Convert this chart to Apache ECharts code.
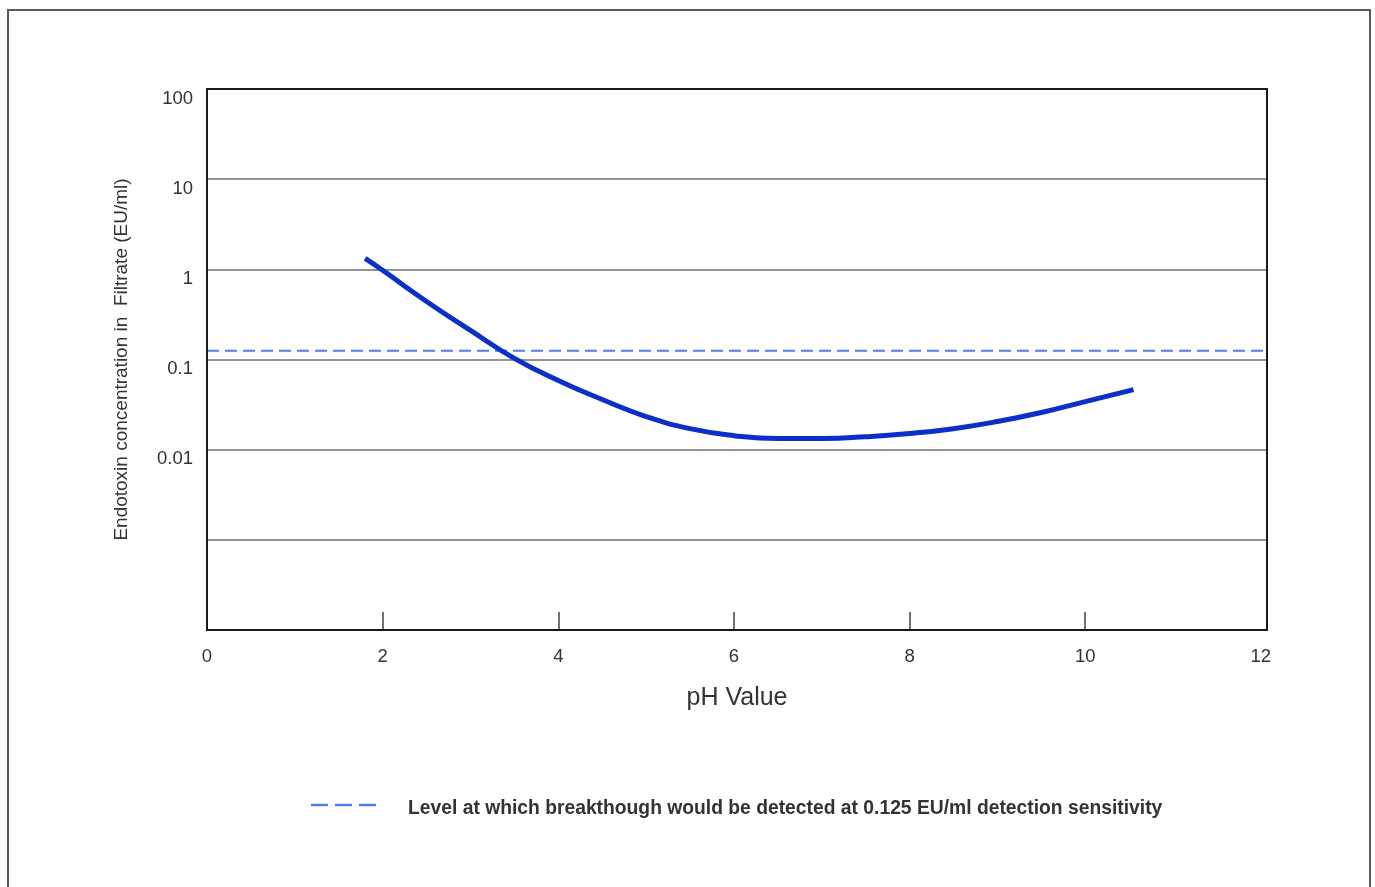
<!DOCTYPE html>
<html>
<head>
<meta charset="utf-8">
<script src="https://cdn.jsdelivr.net/npm/echarts@6/dist/echarts.min.js"></script>
<style>
  html, body { margin: 0; padding: 0; background: #fff; }
  #chart { width: 1375px; height: 887px; }
</style>
</head>
<body>
<div id="chart"></div>
<script>
// pH values and endotoxin concentration in the filtrate (EU/ml)
const phValues = [1.8, 2.0, 2.5, 3.0, 3.5, 4.0, 4.5, 5.0, 5.5, 6.0, 6.5, 7.0, 7.5, 8.0, 8.5, 9.0, 9.5, 10.0, 10.55];
const endotoxin = [1.32, 0.975, 0.44, 0.21, 0.103, 0.0585, 0.036, 0.0233, 0.0171, 0.0143, 0.0133, 0.0133, 0.0139, 0.0151, 0.0171, 0.0205, 0.0258, 0.0341, 0.0464];

// detection sensitivity threshold
const detectionLevel = 0.125;
const detectionName = 'Level at which breakthough would be detected at 0.125 EU/ml detection sensitivity';

// x axis range (pH), labelled values and tick-marked values
const xMin = 0, xMax = 12.07, xStep = 2;
const xLabelValues = [0, 2, 4, 6, 8, 10, 12];
const xTickValues = [2, 4, 6, 8, 10];

// y tick labels shown on the log axis (blank below 0.01)
const yTickLabels = { '100': '100', '10': '10', '1': '1', '0.1': '0.1', '0.01': '0.01' };

const FONT = '"Liberation Sans", Arial, sans-serif';
const PLOT = { left: 207, right: 108, top: 89, bottom: 257 };

const chart = echarts.init(document.getElementById('chart'), null, { renderer: 'canvas' });

chart.setOption({
  backgroundColor: '#ffffff',
  animation: false,
  textStyle: { fontFamily: FONT },
  graphic: [
    // page frame
    {
      type: 'rect',
      shape: { x: 8, y: 10, width: 1362, height: 900 },
      style: { fill: 'none', stroke: '#5a5a5a', lineWidth: 2 },
      silent: true
    },
    // plot frame drawn over the outer grid lines
    {
      type: 'rect',
      shape: { x: PLOT.left, y: PLOT.top, width: 1375 - PLOT.left - PLOT.right, height: 887 - PLOT.top - PLOT.bottom },
      style: { fill: 'none', stroke: '#1a1a1a', lineWidth: 2 },
      z: 50,
      silent: true
    },
    // legend key for the detection level
    {
      type: 'line',
      shape: { x1: 311, y1: 805, x2: 379, y2: 805 },
      style: { stroke: '#5283dc', lineWidth: 2.5, lineDash: [17, 7] },
      silent: true
    },
    {
      type: 'text',
      left: 408, top: 799,
      style: { text: detectionName, font: 'bold 19.3px ' + FONT, fill: '#333' },
      silent: true
    }
  ],
  grid: {
    left: PLOT.left, right: PLOT.right, top: PLOT.top, bottom: PLOT.bottom,
    show: false
  },
  xAxis: {
    type: 'value',
    min: xMin, max: xMax, interval: xStep,
    name: 'pH Value',
    nameLocation: 'middle',
    nameGap: 56,
    nameTextStyle: { fontFamily: FONT, fontSize: 25, color: '#333' },
    axisLine: { show: true, lineStyle: { color: '#1a1a1a', width: 2 } },
    axisTick: { show: true, inside: true, length: 18, customValues: xTickValues, lineStyle: { color: '#444', width: 1.5 } },
    axisLabel: {
      fontFamily: FONT, fontSize: 18.5, color: '#333', margin: 17,
      customValues: xLabelValues,
      formatter: function (v) { return String(v); }
    },
    splitLine: { show: false }
  },
  yAxis: {
    type: 'log',
    logBase: 10,
    min: 0.0001, max: 100,
    name: 'Endotoxin concentration in  Filtrate (EU/ml)',
    nameLocation: 'middle',
    nameRotate: 90,
    nameGap: 76,
    nameTextStyle: { fontFamily: FONT, fontSize: 19, color: '#333' },
    axisLine: { show: true, lineStyle: { color: '#1a1a1a', width: 2 } },
    axisTick: { show: false },
    axisLabel: {
      fontFamily: FONT, fontSize: 18.5, color: '#333', margin: 14, verticalAlign: 'top',
      formatter: function (v) {
        const key = String(+v.toPrecision(6));
        return yTickLabels[key] !== undefined ? yTickLabels[key] : '';
      }
    },
    splitLine: { show: true, lineStyle: { color: '#707070', width: 1.6 } }
  },
  series: [
    {
      name: detectionName,
      type: 'line',
      data: [[xMin, detectionLevel], [xMax, detectionLevel]],
      symbol: 'none',
      lineStyle: { color: '#4f80dc', width: 2, type: [12, 6] },
      z: 3
    },
    {
      name: 'Endotoxin',
      type: 'line',
      data: phValues.map(function (x, i) { return [x, endotoxin[i]]; }),
      smooth: 0.5,
      symbol: 'none',
      lineStyle: { color: '#0b2fc9', width: 5, cap: 'butt' },
      z: 4
    }
  ]
});
</script>
</body>
</html>
